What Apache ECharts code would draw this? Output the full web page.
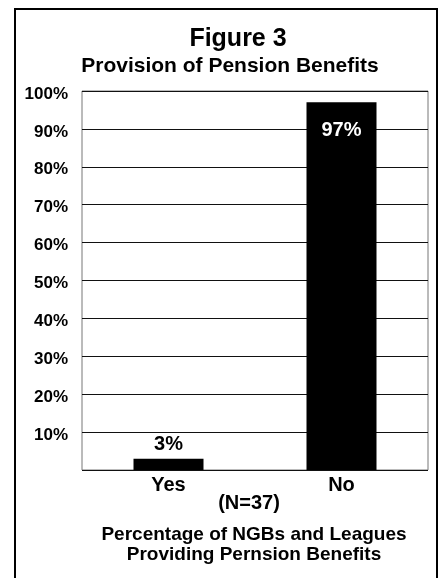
<!DOCTYPE html>
<html>
<head>
<meta charset="utf-8">
<script src="https://cdn.jsdelivr.net/npm/echarts@6/dist/echarts.min.js"></script>
<style>
  html, body { margin: 0; padding: 0; background: #fff; }
  #main { width: 440px; height: 578px; }
</style>
</head>
<body>
<div id="main"></div>
<script>
// data
const categories = ['Yes', 'No'];
const percentValues = [3, 97];
const yTicks = ['10%', '20%', '30%', '40%', '50%', '60%', '70%', '80%', '90%', '100%'];

const font = 'Liberation Sans, Arial, sans-serif';
const myChart = echarts.init(document.getElementById('main'));

const option = {
  backgroundColor: '#fff',
  animation: false,
  title: [
    {
      text: 'Figure 3',
      left: 233, top: 22, textAlign: 'center',
      textStyle: { fontFamily: font, fontWeight: 'bold', fontSize: 25, color: '#000' }
    },
    {
      text: 'Provision of Pension Benefits',
      left: 225, top: 51, textAlign: 'center',
      textStyle: { fontFamily: font, fontWeight: 'bold', fontSize: 21, color: '#000' }
    },
    {
      text: '(N=37)',
      left: 244, top: 488, textAlign: 'center',
      textStyle: { fontFamily: font, fontWeight: 'bold', fontSize: 20, color: '#000' }
    },
    {
      text: 'Percentage of NGBs and Leagues\nProviding Pernsion Benefits',
      left: 249, top: 520, textAlign: 'center',
      textStyle: { fontFamily: font, fontWeight: 'bold', fontSize: 19, color: '#000', lineHeight: 20 }
    }
  ],
  graphic: [
    {
      type: 'rect',
      shape: { x: 15, y: 9, width: 422, height: 600 },
      style: { fill: 'none', stroke: '#000', lineWidth: 2 }
    }
  ],
  grid: { left: 82, right: 12, top: 91, bottom: 108, show: true, borderColor: '#777', borderWidth: 1 },
  xAxis: {
    type: 'category',
    data: categories,
    axisLine: { show: false },
    axisTick: { show: false },
    axisLabel: { margin: 5, fontFamily: font, fontWeight: 'bold', fontSize: 20, color: '#000' }
  },
  yAxis: {
    type: 'value',
    min: 0, max: 100, interval: 10,
    axisLine: { show: false },
    axisTick: { show: false },
    splitLine: { lineStyle: { color: '#111', width: 1 } },
    axisLabel: {
      margin: 14,
      verticalAlign: 'top',
      lineHeight: 6,
      fontFamily: font, fontWeight: 'bold', fontSize: 17, color: '#000',
      formatter: function (v) { return v === 0 ? '' : yTicks[v / 10 - 1]; }
    }
  },
  series: [
    {
      type: 'bar',
      data: percentValues.map(function (v, i) {
        return {
          value: v,
          label: i === 1
            ? { show: true, position: 'insideTop', distance: 18, color: '#fff' }
            : { show: true, position: 'top', distance: 4, color: '#000' }
        };
      }),
      barWidth: 70,
      itemStyle: { color: '#000' },
      label: {
        show: true,
        fontFamily: font, fontWeight: 'bold', fontSize: 20,
        formatter: '{c}%'
      }
    }
  ]
};

option && myChart.setOption(option);
</script>
</body>
</html>
